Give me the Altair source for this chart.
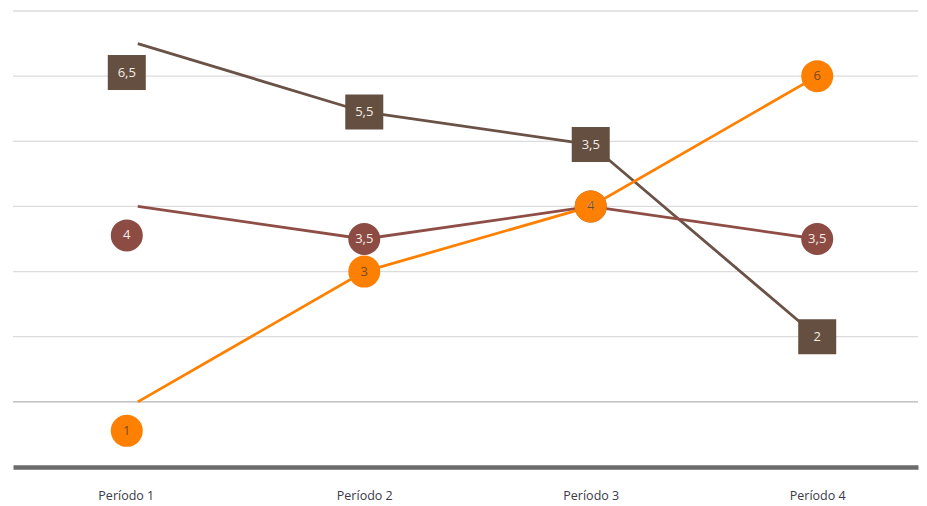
import altair as alt
import pandas as pd

periods = [1, 2, 3, 4]
period_names = ["Período 1", "Período 2", "Período 3", "Período 4"]
series_names = ["Serie A", "Serie B", "Serie C"]
serie_a = [6.5, 5.45, 4.95, 2.0]
serie_b = [4.0, 3.5, 4.0, 3.5]
serie_c = [1.0, 3.0, 4.0, 6.0]
labels_a = ["6,5", "5,5", "3,5", "2"]
labels_b = ["4", "3,5", "4", "3,5"]
labels_c = ["1", "3", "4", "6"]
grid_values = [1, 2, 3, 4, 5, 6, 7]

rows = []
for name, vals, labs in zip(series_names, [serie_a, serie_b, serie_c], [labels_a, labels_b, labels_c]):
    for p, v, l in zip(periods, vals, labs):
        rows.append({"period": p, "series": name, "value": v, "label": l})
df = pd.DataFrame(rows)
grid_df = pd.DataFrame({"value": grid_values})

line_colors = ["#6a5346", "#8e4e46", "#ff8000"]
marker_colors = ["#654f41", "#8c4b43", "#fd8003"]
square_path = "M-1,-0.92H1V0.92H-1Z"

x_scale = alt.Scale(domain=[0.449, 4.445], nice=False, zero=False)
y_scale = alt.Scale(domain=[0, 7], nice=False)

x_enc = alt.X(
    "period:Q",
    scale=x_scale,
    axis=alt.Axis(
        values=periods,
        labelExpr="'Período ' + datum.value",
        title=None,
        grid=False,
        ticks=False,
        domain=True,
        domainColor="#6b6b6b",
        domainWidth=4.5,
        labelFont="Open Sans",
        labelFontSize=12.5,
        labelColor="#3a3a48",
        labelPadding=22,
        labelOffset=alt.condition("datum.value == 1", alt.value(-12), alt.value(0)),
    ),
)
y_enc = alt.Y("value:Q", scale=y_scale, axis=None)

gridlines = alt.Chart(grid_df).mark_rule(strokeWidth=1.3).encode(
    y=alt.Y("value:Q", scale=y_scale, axis=None),
    color=alt.condition("datum.value == 1", alt.value("#b4b4b4"), alt.value("#dcdcdc")),
)

base = alt.Chart(df).encode(x=x_enc, y=y_enc)

lines = base.mark_line(strokeWidth=2.8).encode(
    color=alt.Color("series:N", scale=alt.Scale(domain=series_names, range=line_colors), legend=None),
    order=alt.Order("period:Q"),
)

shape_enc = alt.Shape("series:N", scale=alt.Scale(domain=series_names, range=[square_path, "circle", "circle"]), legend=None)
fill_enc = alt.Fill("series:N", scale=alt.Scale(domain=series_names, range=marker_colors), legend=None)
size_enc = alt.condition("datum.series == 'Serie A'", alt.value(1444), alt.value(1024))
text_color = alt.condition("datum.series == 'Serie C'", alt.value("#7a4a1e"), alt.value("#f4ede6"))

first = base.transform_filter("datum.period == 1")
rest = base.transform_filter("datum.period != 1")

markers_first = first.mark_point(filled=True, opacity=1, strokeWidth=0, xOffset=-11, yOffset=29).encode(
    shape=shape_enc, fill=fill_enc, size=size_enc
)
markers_rest = rest.mark_point(filled=True, opacity=1, strokeWidth=0).encode(
    shape=shape_enc, fill=fill_enc, size=size_enc
)
text_first = first.mark_text(font="Open Sans", fontSize=13, xOffset=-11, yOffset=29, baseline="middle").encode(
    text="label:N", color=text_color
)
text_rest = rest.mark_text(font="Open Sans", fontSize=13, baseline="middle").encode(
    text="label:N", color=text_color
)

chart = (
    alt.layer(gridlines, lines, markers_first, markers_rest, text_first, text_rest)
    .resolve_scale(color="independent")
    .properties(
        width=905,
        height=456,
        padding={"left": 4, "top": 2, "right": 0, "bottom": 0},
        view=alt.ViewBackground(stroke="transparent", strokeWidth=0),
    )
    .configure_view(strokeWidth=0, stroke="transparent", strokeOpacity=0)
    .configure(background="white")
)

chart.save("out.html", embed_options={"renderer": "svg", "actions": False})
